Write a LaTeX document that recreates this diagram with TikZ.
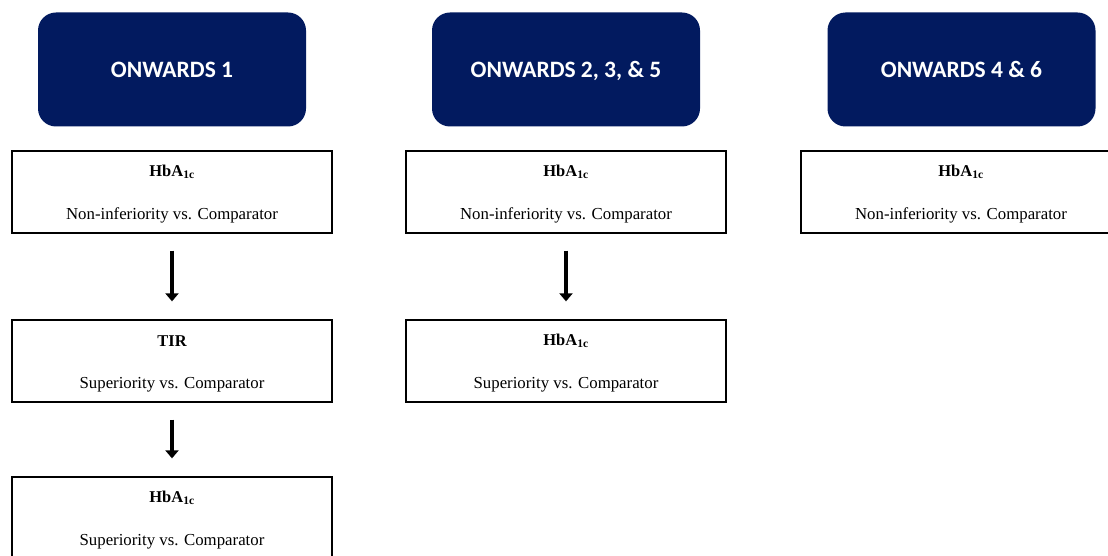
\documentclass[tikz,border=0pt]{standalone}
\usepackage{fontspec}
\setmainfont{Liberation Serif}
\newfontfamily\hdfont{Carlito}
\usetikzlibrary{arrows.meta}
\definecolor{navy}{HTML}{021A5F}
\tikzset{
  header/.style={fill=navy, rounded corners=18pt, minimum width=268pt, minimum height=114pt, inner sep=0pt,
    text=white, text depth=0pt, font=\hdfont\bfseries\fontsize{23.5}{26}\selectfont},
  ebox/.style={draw=black, line width=1.3pt, minimum width=320pt, minimum height=82pt, inner sep=0pt},
  etitle/.style={font=\bfseries\fontsize{16.5}{18}\selectfont, inner sep=0pt},
  esub/.style={font=\fontsize{16.8}{18}\selectfont, inner sep=0pt},
  flow/.style={line width=4.5pt, -{Triangle[width=13pt,length=8pt]}, shorten <=17pt, shorten >=18pt}
}
\newcommand\outbox[4]{%
  \node[ebox] (#1) at (#2) {};
  \node[etitle] (#1t) at ([yshift=20pt]#1.center) {#3};
  \node[esub] (#1s) at ([yshift=-23.5pt]#1.center) {#4};
}
\begin{document}
\begin{tikzpicture}[x=1pt,y=-1pt]
\useasboundingbox (0,0) rectangle (1108,556);
\node[header] (h1) at (172,69.5) {ONWARDS 1};
\node[header] (h2) at (566,69.5) {ONWARDS 2, 3, \& 5};
\node[header] (h3) at (961.5,69.5) {ONWARDS 4 \& 6};
\outbox{a1}{172,192}{HbA\textsubscript{1c}}{Non-inferiority vs. Comparator}
\outbox{a2}{172,361}{TIR}{Superiority vs. Comparator}
\outbox{a3}{172,518}{HbA\textsubscript{1c}}{Superiority vs. Comparator}
\outbox{b1}{566,192}{HbA\textsubscript{1c}}{Non-inferiority vs. Comparator}
\outbox{b2}{566,361}{HbA\textsubscript{1c}}{Superiority vs. Comparator}
\outbox{c1}{961,192}{HbA\textsubscript{1c}}{Non-inferiority vs. Comparator}
\draw[flow] (a1.south) -- (a2.north);
\draw[flow] (a2.south) -- (a3.north);
\draw[flow] (b1.south) -- (b2.north);
\end{tikzpicture}
\end{document}
